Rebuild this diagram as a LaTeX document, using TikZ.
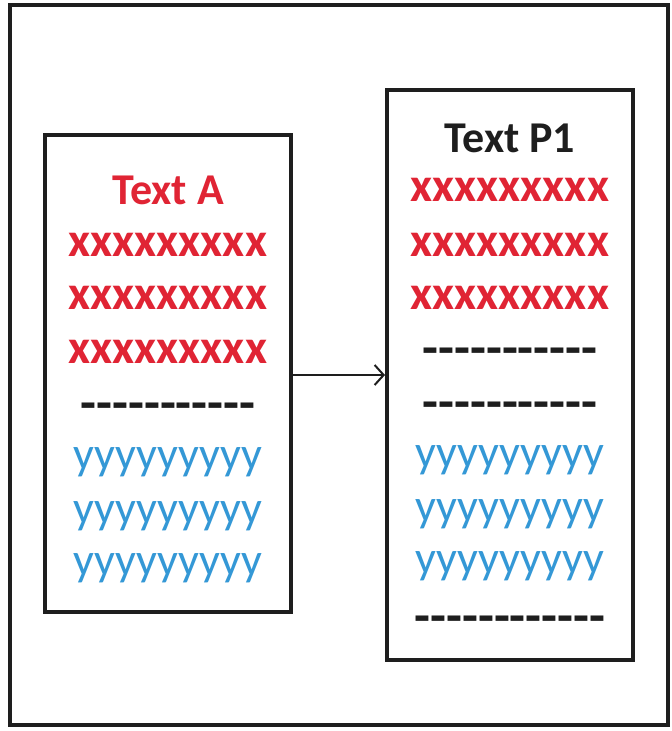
\documentclass[tikz,border=0pt]{standalone}
\usepackage{fontspec}
% plain family without TeX ligatures, so runs of hyphens stay hyphens
\newfontfamily\plainfont{Carlito}
\usetikzlibrary{arrows.meta}
\definecolor{xred}{RGB}{224,36,52}
\definecolor{yblue}{RGB}{52,152,214}
\definecolor{ink}{RGB}{30,30,30}
\tikzset{
  panel/.style={draw=ink, line width=4pt, fill=white},
  row/.style={inner sep=0pt},
  xrow/.style={row, text=xred, font=\plainfont\bfseries\fontsize{48}{48}\selectfont},
  yrow/.style={row, text=yblue, font=\plainfont\fontsize{46}{46}\selectfont},
  drow/.style={row, text=ink, font=\plainfont\bfseries\fontsize{52}{52}\selectfont},
  title/.style={row, font=\plainfont\bfseries\fontsize{44}{44}\selectfont},
}
\begin{document}
\begin{tikzpicture}[x=1pt,y=-1pt]
  \useasboundingbox (0,0) rectangle (672,731);
  % outer frame
  \draw[draw=ink, line width=4pt] (10,5) rectangle (668,725);
  % left panel
  \node[panel, minimum width=246pt, minimum height=477pt, inner sep=0pt] (A) at (168,373.5) {};
  \node[title, text=xred] (ta) at (168,190) {Text A};
  \node[xrow] (ax1) at (168,245) {xxxxxxxxx};
  \node[xrow] (ax2) at (168,298) {xxxxxxxxx};
  \node[xrow] (ax3) at (168,352) {xxxxxxxxx};
  \node[drow] (ad1) at (168,412) {-----------};
  \node[yrow] (ay1) at (168,462) {yyyyyyyyy};
  \node[yrow] (ay2) at (168,516) {yyyyyyyyy};
  \node[yrow] (ay3) at (168,568) {yyyyyyyyy};
  % right panel
  \node[panel, minimum width=246pt, minimum height=570pt, inner sep=0pt] (P) at (510,375) {};
  \node[title, text=ink] (tp) at (510,138) {Text P1};
  \node[xrow] (px1) at (510,190) {xxxxxxxxx};
  \node[xrow] (px2) at (510,245) {xxxxxxxxx};
  \node[xrow] (px3) at (510,298) {xxxxxxxxx};
  \node[drow] (pd1) at (510,357) {-----------};
  \node[drow] (pd2) at (510,411) {-----------};
  \node[yrow] (py1) at (510,460) {yyyyyyyyy};
  \node[yrow] (py2) at (510,514) {yyyyyyyyy};
  \node[yrow] (py3) at (510,566) {yyyyyyyyy};
  \node[drow] (pd3) at (510,625) {------------};
  % connector
  \draw[draw=ink, line width=2pt, -{Straight Barb[length=9pt,width=20pt,line width=2pt]}]
    (A.east |- 0,375) -- (P.west |- 0,375);
\end{tikzpicture}
\end{document}
